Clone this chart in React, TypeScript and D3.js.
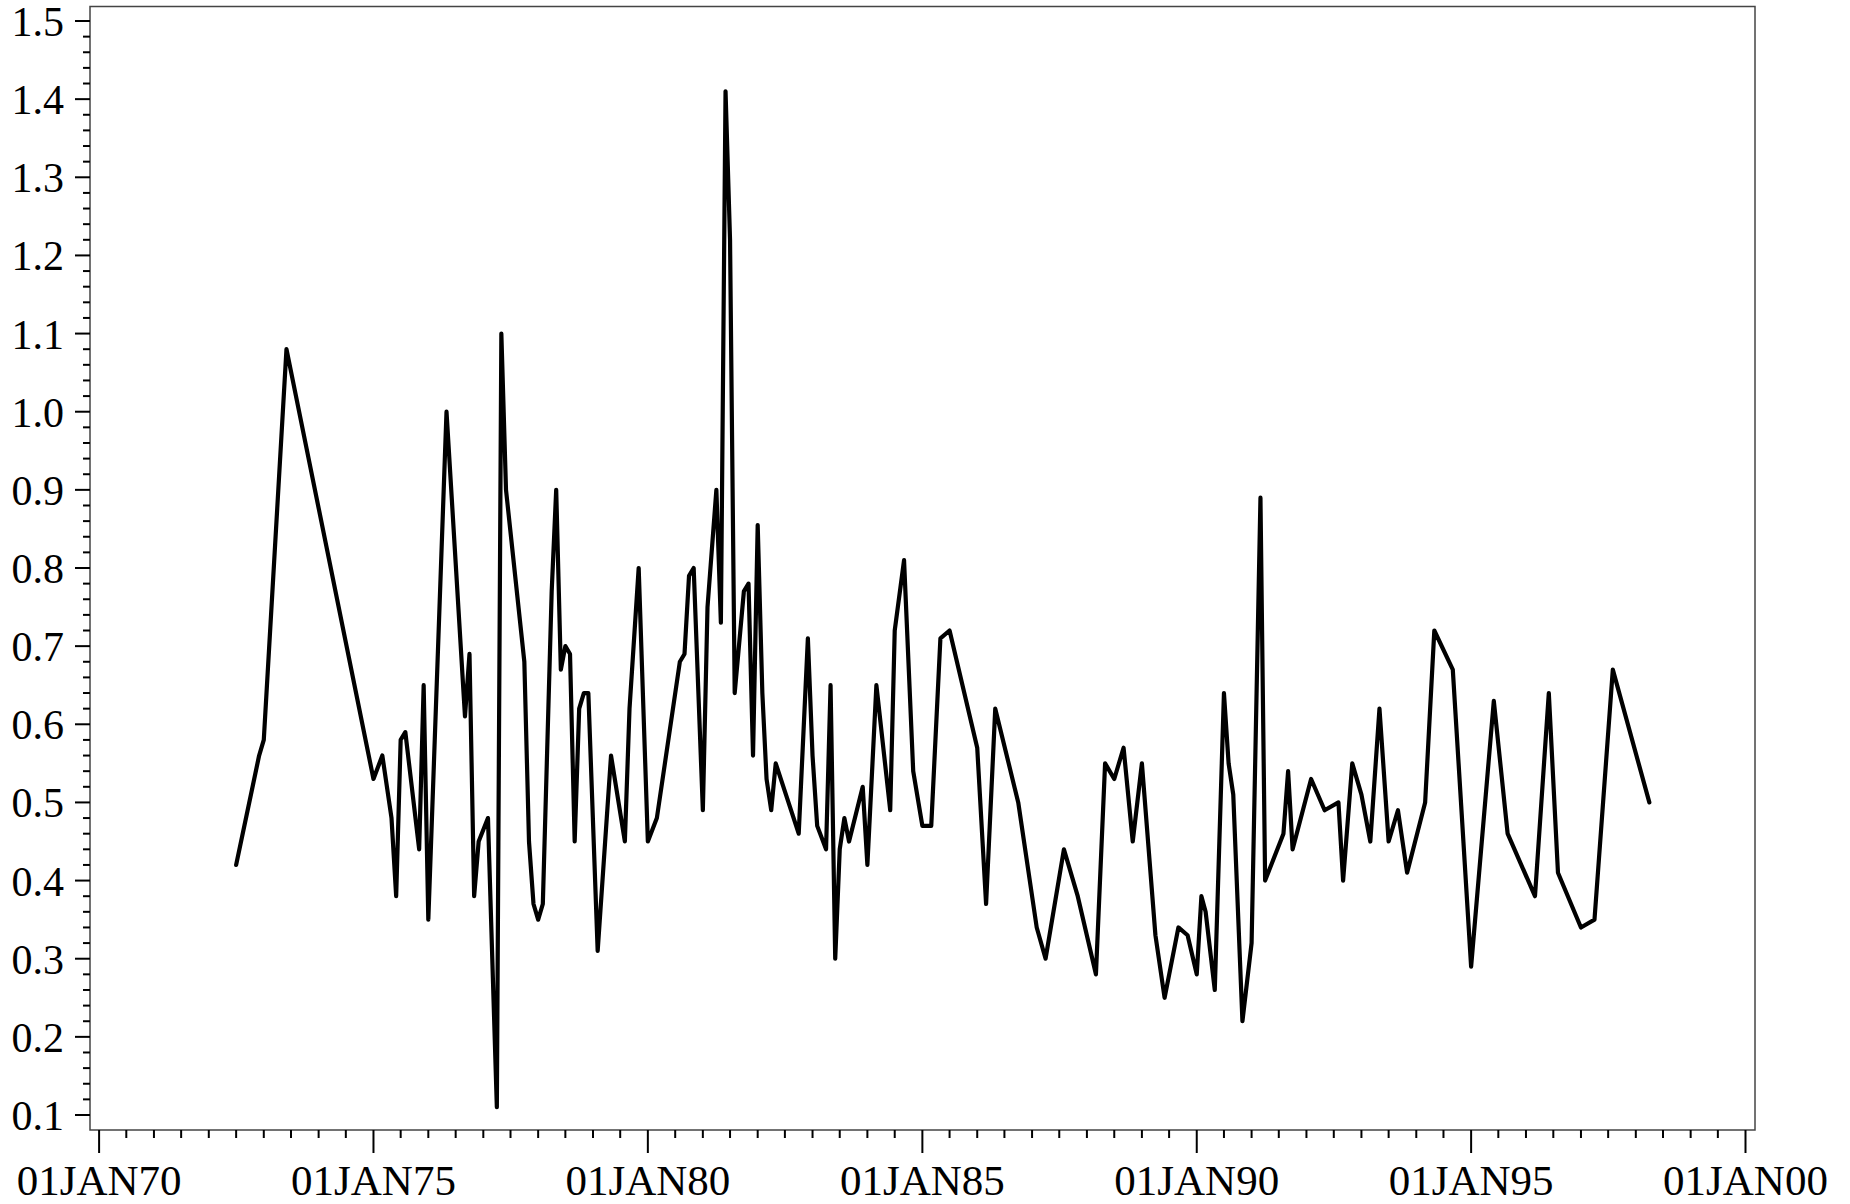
import React from "react";
import * as d3 from "d3";

// Observation months (YYYY-MM) and values
const dates: string[] = [
  "1972-07","1972-12","1973-01","1973-06","1975-01","1975-03","1975-05","1975-06","1975-07","1975-08",
  "1975-11","1975-12","1976-01","1976-05","1976-09","1976-10","1976-11","1976-12","1977-02","1977-04",
  "1977-05","1977-06","1977-10","1977-11","1977-12","1978-01","1978-02","1978-04","1978-05","1978-06",
  "1978-07","1978-08","1978-09","1978-10","1978-11","1978-12","1979-02","1979-05","1979-08","1979-09",
  "1979-11","1980-01","1980-03","1980-08","1980-09","1980-10","1980-11","1981-01","1981-02","1981-04",
  "1981-05","1981-06","1981-07","1981-08","1981-10","1981-11","1981-12","1982-01","1982-02","1982-03",
  "1982-04","1982-05","1982-10","1982-12","1983-01","1983-02","1983-04","1983-05","1983-06","1983-07",
  "1983-08","1983-09","1983-12","1984-01","1984-03","1984-06","1984-07","1984-09","1984-11","1985-01",
  "1985-03","1985-05","1985-07","1986-01","1986-03","1986-05","1986-10","1987-02","1987-04","1987-08",
  "1987-11","1988-03","1988-05","1988-07","1988-09","1988-11","1989-01","1989-04","1989-06","1989-09",
  "1989-11","1990-01","1990-02","1990-03","1990-05","1990-07","1990-08","1990-09","1990-11","1991-01",
  "1991-03","1991-04","1991-08","1991-09","1991-10","1992-02","1992-05","1992-08","1992-09","1992-11",
  "1993-01","1993-03","1993-05","1993-07","1993-09","1993-11","1994-03","1994-05","1994-09","1995-01",
  "1995-06","1995-09","1996-03","1996-06","1996-08","1997-01","1997-04","1997-08","1998-04",
];

const values: number[] = [
  0.42,0.56,0.58,1.08,0.53,0.56,0.48,0.38,0.58,0.59,
  0.44,0.65,0.35,1.00,0.61,0.69,0.38,0.45,0.48,0.11,
  1.10,0.90,0.68,0.45,0.37,0.35,0.37,0.77,0.90,0.67,
  0.70,0.69,0.45,0.62,0.64,0.64,0.31,0.56,0.45,0.62,
  0.80,0.45,0.48,0.68,0.69,0.79,0.80,0.49,0.75,0.90,
  0.73,1.41,1.22,0.64,0.77,0.78,0.56,0.855,0.64,0.53,
  0.49,0.55,0.46,0.71,0.56,0.47,0.44,0.65,0.30,0.44,
  0.48,0.45,0.52,0.42,0.65,0.49,0.72,0.81,0.54,0.47,
  0.47,0.71,0.72,0.57,0.37,0.62,0.50,0.34,0.30,0.44,
  0.38,0.28,0.55,0.53,0.57,0.45,0.55,0.33,0.25,0.34,
  0.33,0.28,0.38,0.36,0.26,0.64,0.55,0.51,0.22,0.32,
  0.89,0.40,0.46,0.54,0.44,0.53,0.49,0.50,0.40,0.55,
  0.51,0.45,0.62,0.45,0.49,0.41,0.50,0.72,0.67,0.29,
  0.63,0.46,0.38,0.64,0.41,0.34,0.35,0.67,0.50,
];

const xTickYears: number[] = [1970, 1975, 1980, 1985, 1990, 1995, 2000];
const xTickLabels: string[] = ["01JAN70","01JAN75","01JAN80","01JAN85","01JAN90","01JAN95","01JAN00"];
const yTicks: number[] = [0.1,0.2,0.3,0.4,0.5,0.6,0.7,0.8,0.9,1.0,1.1,1.2,1.3,1.4,1.5];

const W = 1850;
const H = 1204;
const frame = { left: 90, right: 1755, top: 6.5, bottom: 1130 };
const FONT = "'Liberation Serif','Times New Roman',serif";

export default function App() {
  const parse = d3.timeParse("%Y-%m");
  const data = dates.map((d, i) => ({ date: parse(d) as Date, value: values[i] }));

  const x = d3
    .scaleTime()
    .domain([new Date(1970, 0, 1), new Date(2000, 0, 1)])
    .range([99.1, 1745.5]);
  const y = d3.scaleLinear().domain([0.1, 1.5]).range([1115, 21]);

  const line = d3
    .line<{ date: Date; value: number }>()
    .x((d) => x(d.date))
    .y((d) => y(d.value));

  const xMinor: Date[] = [];
  for (let m = 0; m <= 360; m += 6) {
    if (m % 60 !== 0) xMinor.push(new Date(1970, m, 1));
  }
  const yMinor: number[] = [];
  for (let i = 0; i <= 70; i++) {
    if (i % 5 !== 0) yMinor.push(0.1 + i * 0.02);
  }

  return (
    <svg
      width={W}
      height={H}
      style={{ position: "absolute", left: 0, top: 0, background: "#fff" }}
    >
      <rect x={0} y={0} width={W} height={H} fill="#fff" />
      {/* frame */}
      <rect
        x={frame.left}
        y={frame.top}
        width={frame.right - frame.left}
        height={frame.bottom - frame.top}
        fill="none"
        stroke="#444"
        strokeWidth={1.5}
      />
      {/* y ticks */}
      {yTicks.map((t) => (
        <g key={"yt" + t}>
          <line x1={75} x2={frame.left} y1={y(t)} y2={y(t)} stroke="#000" strokeWidth={2} />
          <text
            x={64}
            y={y(t) + 15}
            textAnchor="end"
            fontFamily={FONT}
            fontSize={42}
            fill="#000"
          >
            {t.toFixed(1)}
          </text>
        </g>
      ))}
      {yMinor.map((t, i) => (
        <line key={"ym" + i} x1={83} x2={frame.left} y1={y(t)} y2={y(t)} stroke="#000" strokeWidth={2} />
      ))}
      {/* x ticks */}
      {xTickYears.map((yr, i) => {
        const px = x(new Date(yr, 0, 1));
        return (
          <g key={"xt" + yr}>
            <line x1={px} x2={px} y1={frame.bottom} y2={frame.bottom + 23} stroke="#000" strokeWidth={2} />
            <text
              x={px}
              y={1195}
              textAnchor="middle"
              fontFamily={FONT}
              fontSize={43}
              fill="#000"
            >
              {xTickLabels[i]}
            </text>
          </g>
        );
      })}
      {xMinor.map((d, i) => (
        <line
          key={"xm" + i}
          x1={x(d)}
          x2={x(d)}
          y1={frame.bottom}
          y2={frame.bottom + 8}
          stroke="#000"
          strokeWidth={2}
        />
      ))}
      {/* data line */}
      <path
        d={line(data) || ""}
        fill="none"
        stroke="#000"
        strokeWidth={4.2}
        strokeLinejoin="round"
        strokeLinecap="round"
      />
    </svg>
  );
}
